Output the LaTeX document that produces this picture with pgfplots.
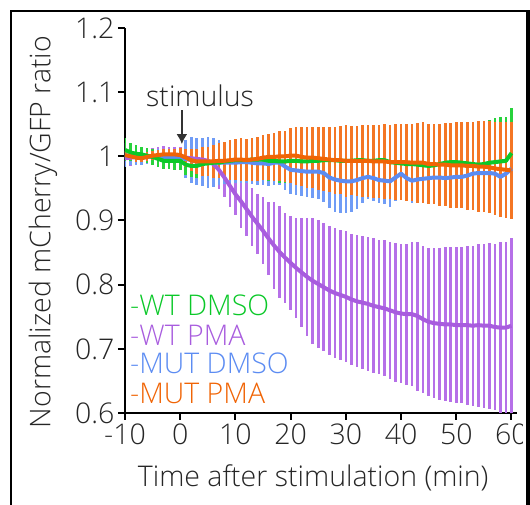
\documentclass[border=0pt]{standalone}
\usepackage{fontspec}
\setmainfont{Open Sans}[UprightFont=* Light]
\usepackage{pgfplots}
\pgfplotsset{compat=1.18}
\usepackage{pgfplotstable}
\usetikzlibrary{arrows.meta}

\definecolor{cgreen}{RGB}{10,200,40}
\definecolor{cpurple}{RGB}{168,92,222}
\definecolor{cblue}{RGB}{92,140,242}
\definecolor{corange}{RGB}{240,100,5}
\definecolor{bgreen}{RGB}{40,210,60}
\definecolor{bpurple}{RGB}{182,112,232}
\definecolor{bblue}{RGB}{112,156,246}
\definecolor{borange}{RGB}{244,118,36}

% WT DMSO
\pgfplotstableread{
t m e
-10 1.010 0.018
-9 1.006 0.014
-8 1.004 0.013
-7 1.003 0.012
-6 1.001 0.012
-5 0.999 0.012
-4 0.996 0.012
-3 0.993 0.013
-2 0.993 0.013
-1 0.993 0.014
0 0.993 0.015
1 0.987 0.016
2 0.985 0.017
3 0.985 0.018
4 0.988 0.019
5 0.989 0.020
6 0.990 0.021
7 0.990 0.022
8 0.992 0.023
9 0.993 0.024
10 0.994 0.025
11 0.994 0.026
12 0.994 0.027
13 0.995 0.028
14 0.995 0.029
15 0.995 0.030
16 0.993 0.031
17 0.993 0.032
18 0.992 0.033
19 0.992 0.034
20 0.993 0.035
21 0.993 0.036
22 0.992 0.037
23 0.992 0.038
24 0.993 0.039
25 0.993 0.040
26 0.994 0.041
27 0.994 0.042
28 0.994 0.043
29 0.993 0.044
30 0.993 0.045
31 0.993 0.046
32 0.994 0.047
33 0.994 0.047
34 0.993 0.048
35 0.993 0.048
36 0.994 0.049
37 0.994 0.050
38 0.991 0.050
39 0.990 0.051
40 0.989 0.051
41 0.988 0.052
42 0.988 0.053
43 0.987 0.054
44 0.986 0.055
45 0.985 0.056
46 0.986 0.057
47 0.988 0.058
48 0.990 0.060
49 0.991 0.060
50 0.991 0.061
51 0.990 0.062
52 0.989 0.062
53 0.988 0.064
54 0.987 0.063
55 0.988 0.066
56 0.990 0.066
57 0.991 0.068
58 0.992 0.069
59 0.993 0.069
60 1.005 0.070
}\wtdmso

% WT PMA
\pgfplotstableread{
t m e
-10 0.997 0.012
-9 0.998 0.013
-8 0.999 0.012
-7 1.000 0.013
-6 1.000 0.012
-5 1.000 0.013
-4 1.001 0.014
-3 1.001 0.015
-2 1.000 0.015
-1 1.000 0.014
0 0.999 0.015
1 0.998 0.016
2 0.997 0.018
3 0.996 0.020
4 0.995 0.022
5 0.993 0.024
6 0.988 0.026
7 0.979 0.030
8 0.967 0.031
9 0.954 0.033
10 0.941 0.032
11 0.930 0.042
12 0.918 0.042
13 0.906 0.045
14 0.895 0.047
15 0.884 0.052
16 0.872 0.057
17 0.861 0.068
18 0.851 0.072
19 0.842 0.070
20 0.834 0.073
21 0.826 0.078
22 0.819 0.085
23 0.812 0.092
24 0.806 0.098
25 0.801 0.100
26 0.796 0.100
27 0.791 0.101
28 0.787 0.102
29 0.784 0.101
30 0.781 0.102
31 0.777 0.102
32 0.774 0.103
33 0.772 0.104
34 0.770 0.104
35 0.767 0.105
36 0.765 0.105
37 0.763 0.106
38 0.760 0.107
39 0.757 0.108
40 0.755 0.109
41 0.754 0.110
42 0.754 0.112
43 0.751 0.116
44 0.746 0.115
45 0.742 0.115
46 0.740 0.117
47 0.739 0.118
48 0.738 0.120
49 0.738 0.121
50 0.737 0.121
51 0.737 0.122
52 0.737 0.124
53 0.736 0.125
54 0.737 0.127
55 0.736 0.128
56 0.736 0.129
57 0.734 0.130
58 0.733 0.133
59 0.733 0.134
60 0.736 0.136
}\wtpma

% MUT DMSO
\pgfplotstableread{
t m e
-10 1.002 0.018
-9 1.000 0.014
-8 0.999 0.012
-7 0.998 0.012
-6 0.999 0.011
-5 1.000 0.011
-4 0.999 0.012
-3 0.998 0.012
-2 0.998 0.013
-1 0.997 0.014
0 0.997 0.016
1 0.996 0.030
2 0.994 0.036
3 0.992 0.037
4 0.991 0.038
5 0.990 0.040
6 0.990 0.038
7 0.990 0.035
8 0.990 0.033
9 0.990 0.032
10 0.990 0.032
11 0.991 0.032
12 0.991 0.032
13 0.990 0.033
14 0.989 0.033
15 0.989 0.033
16 0.988 0.034
17 0.990 0.034
18 0.990 0.035
19 0.984 0.036
20 0.979 0.037
21 0.978 0.038
22 0.977 0.039
23 0.976 0.040
24 0.976 0.041
25 0.976 0.042
26 0.974 0.045
27 0.967 0.048
28 0.964 0.050
29 0.962 0.050
30 0.961 0.050
31 0.961 0.048
32 0.963 0.045
33 0.966 0.038
34 0.968 0.035
35 0.966 0.036
36 0.963 0.036
37 0.962 0.036
38 0.961 0.040
39 0.967 0.036
40 0.973 0.036
41 0.966 0.035
42 0.962 0.035
43 0.964 0.035
44 0.965 0.035
45 0.966 0.035
46 0.967 0.035
47 0.967 0.035
48 0.966 0.035
49 0.967 0.035
50 0.968 0.035
51 0.968 0.035
52 0.970 0.035
53 0.973 0.035
54 0.974 0.035
55 0.974 0.035
56 0.974 0.035
57 0.973 0.035
58 0.968 0.035
59 0.973 0.035
60 0.981 0.035
}\mutdmso

% MUT PMA
\pgfplotstableread{
t m e
-10 1.002 0.006
-9 1.000 0.006
-8 0.998 0.007
-7 0.997 0.006
-6 0.999 0.007
-5 1.001 0.007
-4 1.002 0.008
-3 1.003 0.008
-2 1.003 0.009
-1 1.003 0.009
0 1.002 0.011
1 0.998 0.014
2 0.994 0.017
3 0.992 0.020
4 0.992 0.022
5 0.992 0.023
6 0.992 0.025
7 0.993 0.027
8 0.993 0.029
9 0.994 0.031
10 0.995 0.032
11 0.995 0.033
12 0.994 0.033
13 0.995 0.034
14 0.996 0.034
15 0.998 0.035
16 0.999 0.036
17 0.999 0.038
18 1.000 0.039
19 1.000 0.040
20 1.001 0.043
21 1.001 0.045
22 0.999 0.046
23 0.998 0.047
24 0.998 0.048
25 0.997 0.049
26 0.996 0.050
27 0.995 0.051
28 0.994 0.052
29 0.994 0.053
30 0.993 0.056
31 0.993 0.054
32 0.993 0.055
33 0.993 0.056
34 0.993 0.056
35 0.992 0.057
36 0.992 0.057
37 0.992 0.058
38 0.991 0.058
39 0.991 0.059
40 0.991 0.059
41 0.991 0.060
42 0.990 0.060
43 0.990 0.062
44 0.990 0.063
45 0.988 0.062
46 0.988 0.063
47 0.987 0.064
48 0.987 0.065
49 0.986 0.066
50 0.986 0.067
51 0.986 0.067
52 0.985 0.068
53 0.985 0.069
54 0.984 0.071
55 0.984 0.071
56 0.983 0.072
57 0.981 0.073
58 0.980 0.074
59 0.979 0.075
60 0.978 0.076
}\mutpma

\pgfplotsset{
  ebars/.style={draw=none, forget plot,
    error bars/.cd, y dir=both, y explicit, error mark=none,
    error bar style={draw=#1, line width=2.6pt}},
  mline/.style={draw=#1, line width=4pt, no marks, line join=round},
}

\begin{document}
\begin{tikzpicture}[font=\fontsize{28.5}{33}\selectfont]
\useasboundingbox (0pt,0pt) rectangle (530pt,505pt);
\begin{axis}[
  at={(125pt,92pt)}, anchor=south west,
  scale only axis, width=392pt, height=385pt,
  xmin=-10, xmax=61, ymin=0.6, ymax=1.2,
  axis x line*=bottom, axis y line*=left,
  axis line style={line width=2.4pt, black},
  tick align=outside, major tick length=7pt,
  tick style={line width=2pt, black},
  xtick={-10,0,10,20,30,40,50,60},
  xticklabels={-10,0,10,20,30,40,50,60},
  ytick={0.6,0.7,0.8,0.9,1.0,1.1,1.2},
  yticklabels={0.6,0.7,0.8,0.9,1,1.1,1.2},
  tick label style={black!85},
  xlabel={Time after stimulation (min)},
  ylabel={Normalized mCherry/GFP ratio},
  every axis x label/.style={at={(axis description cs:0.48,-0.169)}, anchor=center, black!85},
  every axis y label/.style={at={(axis description cs:-0.209,0.47)}, anchor=center, rotate=90, black!85},
]
\addplot[ebars=bpurple] table[x=t, y=m, y error=e]{\wtpma};
\addplot[ebars=bblue] table[x=t, y=m, y error=e]{\mutdmso};
\addplot[ebars=bgreen] table[x=t, y=m, y error=e]{\wtdmso};
\addplot[ebars=borange] table[x=t, y=m, y error=e]{\mutpma};

\addplot[mline=cpurple] table[x=t, y=m]{\wtpma};
\addplot[mline=cblue] table[x=t, y=m]{\mutdmso};
\addplot[mline=cgreen] table[x=t, y=m]{\wtdmso};
\addplot[mline=corange] table[x=t, y=m]{\mutpma};

\node[black!85] at (axis cs:3.6,1.094) {stimulus};
\draw[-{Latex[length=10pt,width=11pt]}, line width=2pt, black!80]
  (axis cs:0.3,1.072) -- (axis cs:0.3,1.019);

\node[anchor=west, inner sep=0pt, cgreen] at (axis cs:-9.1,0.7683) {-WT DMSO};
\node[anchor=west, inner sep=0pt, cpurple] at (axis cs:-9.1,0.7216) {-WT PMA};
\node[anchor=west, inner sep=0pt, cblue] at (axis cs:-9.1,0.6779) {-MUT DMSO};
\node[anchor=west, inner sep=0pt, corange] at (axis cs:-9.1,0.6312) {-MUT PMA};
\end{axis}
\draw[line width=2pt, black] (11pt,-10pt) -- (11pt,494pt) -- (526pt,494pt);
\fill[white] (522.5pt,-10pt) rectangle (526pt,493pt);
\fill[black] (526pt,-10pt) rectangle (536pt,495pt);
\end{tikzpicture}
\end{document}
